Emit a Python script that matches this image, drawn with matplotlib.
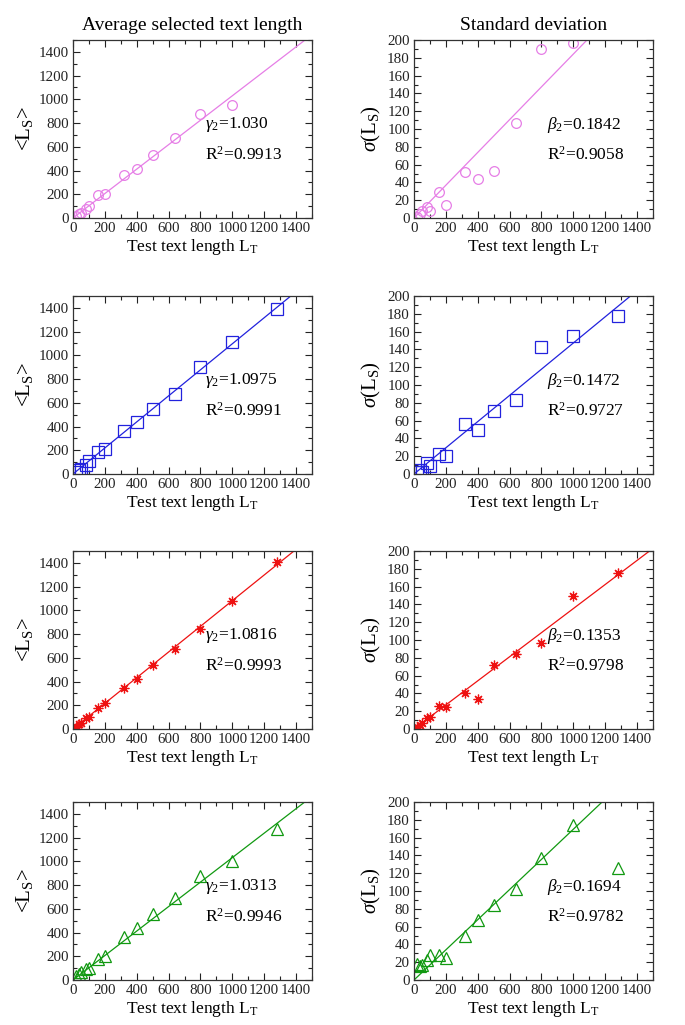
import matplotlib
matplotlib.use("Agg")
import matplotlib.pyplot as plt
import numpy as np
from matplotlib.ticker import MultipleLocator

plt.rcParams['font.family'] = ['Liberation Serif', 'DejaVu Serif']
plt.rcParams['mathtext.fontset'] = 'custom'
plt.rcParams['mathtext.rm'] = 'Liberation Serif'
plt.rcParams['mathtext.it'] = 'Liberation Serif:italic'
plt.rcParams['mathtext.bf'] = 'Liberation Serif:bold'

# Test text lengths
LT = [20, 40, 50, 80, 100, 160, 200, 320, 400, 500, 640, 800, 1000, 1280]

# Average selected text length <L_S>
mean_violet = [20, 30, 45, 80, 100, 190, 205, 360, 410, 530, 675, 880, 955]
mean_blue = [20, 35, 45, 75, 110, 185, 210, 365, 440, 550, 675, 905, 1110, 1390]
mean_red = [15, 40, 50, 90, 105, 175, 215, 345, 420, 540, 675, 845, 1080, 1405]
mean_green = [30, 50, 65, 90, 100, 175, 200, 360, 440, 560, 695, 880, 1000, 1275]

# Standard deviation sigma(L_S)
std_violet = [1, 5, 8, 12, 8, 29, 15, 52, 44, 53, 107, 190, 197]
std_blue = [2, 5, 2, 12, 9, 22, 20, 56, 49, 71, 83, 143, 155, 177]
std_red = [2, 5, 7, 12, 14, 26, 25, 41, 34, 72, 84, 97, 150, 175]
std_green = [18, 16, 17, 23, 28, 28, 25, 50, 67, 84, 102, 137, 174, 126]

# Fit parameters
gamma2 = [1.030, 1.0975, 1.0816, 1.0313]
gamma_labels = ['1.030', '1.0975', '1.0816', '1.0313']
r2_mean = ['0.9913', '0.9991', '0.9993', '0.9946']
beta2 = [0.1842, 0.1472, 0.1353, 0.1694]
beta_labels = ['0.1842', '0.1472', '0.1353', '0.1694']
r2_std = ['0.9058', '0.9727', '0.9798', '0.9782']

colors = ['#e67ee6', '#2222dd', '#ee1111', '#119911']
markers = ['o', 's', (8, 2, 0), '^']
msizes = [7, 8, 7, 8.5]
means = [mean_violet, mean_blue, mean_red, mean_green]
stds = [std_violet, std_blue, std_red, std_green]

fig = plt.figure(figsize=(6.85, 10.25), dpi=100)
W, H = 685, 1025
col_left = [73, 414]
ax_w = 239
row_top = [40, 296, 551, 802]
ax_h = 178

fs = 12.5
tfs = 10.8

def style(ax, ymax, ymaj, ymin):
    ax.set_xlim(0, 1500)
    ax.set_ylim(0, ymax)
    ax.xaxis.set_major_locator(MultipleLocator(200))
    ax.xaxis.set_minor_locator(MultipleLocator(100))
    ax.yaxis.set_major_locator(MultipleLocator(ymaj))
    ax.yaxis.set_minor_locator(MultipleLocator(ymin))
    ax.tick_params(which='both', direction='in', top=True, right=True,
                   labelsize=tfs, width=0.8, colors='#222222')
    ax.tick_params(which='major', length=5, pad=3)
    ax.tick_params(which='minor', length=3)
    for s in ax.spines.values():
        s.set_linewidth(0.9)
        s.set_color('#333333')
    ax.set_xlabel(r'Test text length L$_\mathrm{T}$', fontsize=fs, labelpad=1)

xfit = np.linspace(0, 1500, 200)
for i in range(4):
    bottom = 1 - (row_top[i] + ax_h) / H
    n = len(means[i])
    x = LT[:n]
    mk = markers[i]
    ms = msizes[i]
    # left: mean
    ax = fig.add_axes([col_left[0] / W, bottom, ax_w / W, ax_h / H])
    ax.plot(xfit, gamma2[i] * xfit, color=colors[i], lw=0.9)
    ax.plot(x, means[i], linestyle='none', marker=mk, markersize=ms,
            markerfacecolor='none', markeredgecolor=colors[i], markeredgewidth=0.9)
    style(ax, 1500, 200, 100)
    ax.set_ylabel(r'<L$_\mathrm{S}$>', fontsize=15, labelpad=3)
    ax.text(0.552, 0.525, r'$\gamma_2$=' + gamma_labels[i], transform=ax.transAxes,
            fontsize=fs, va='center', ha='left')
    ax.text(0.552, 0.358, r'R$^2$=' + r2_mean[i], transform=ax.transAxes,
            fontsize=fs, va='center', ha='left')
    if i == 0:
        ax.set_title('Average selected text length', fontsize=14, pad=7)
    # right: std
    ax = fig.add_axes([col_left[1] / W, bottom, ax_w / W, ax_h / H])
    n2 = len(stds[i])
    ax.plot(xfit, beta2[i] * xfit, color=colors[i], lw=0.9)
    ax.plot(LT[:n2], stds[i], linestyle='none', marker=mk, markersize=ms,
            markerfacecolor='none', markeredgecolor=colors[i], markeredgewidth=0.9)
    style(ax, 200, 20, 10)
    ax.set_ylabel(r'$\sigma$(L$_\mathrm{S}$)', fontsize=15, labelpad=3)
    ax.text(0.556, 0.525, r'$\beta_2$=' + beta_labels[i], transform=ax.transAxes,
            fontsize=fs, va='center', ha='left')
    ax.text(0.556, 0.358, r'R$^2$=' + r2_std[i], transform=ax.transAxes,
            fontsize=fs, va='center', ha='left')
    if i == 0:
        ax.set_title('Standard deviation', fontsize=14, pad=7)

fig.savefig('out.png', dpi=100)
